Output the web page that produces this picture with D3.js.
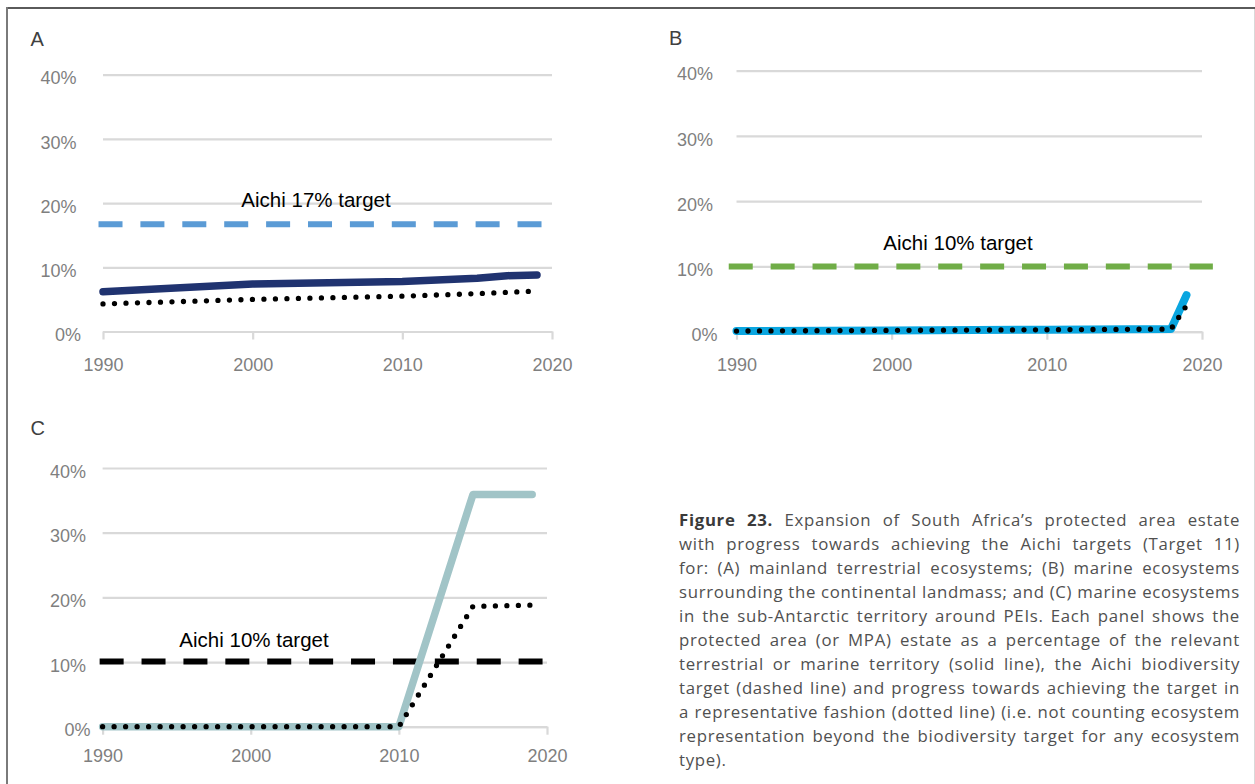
<!DOCTYPE html>
<html><head><meta charset="utf-8">
<script src="https://cdn.jsdelivr.net/npm/d3@7"></script>
<style>body{margin:0;background:#fff;} svg{display:block;}</style>
</head><body>
<svg id="c" width="1255" height="784"></svg>
<script>
// ---------- DATA ----------
const yTicks = [0, 10, 20, 30, 40];
const xTicks = [1990, 2000, 2010, 2020];

// Panel A: mainland terrestrial
const aSolidYears   = [1990, 2000, 2010, 2015, 2017, 2019];
const aSolidValues  = [6.2, 7.4, 7.8, 8.3, 8.7, 8.8];
const aDottedYears  = [1990, 2000, 2010, 2015, 2019];
const aDottedValues = [4.3, 5.0, 5.5, 5.9, 6.3];
const aTargetYears  = [1989.7, 2019.3];
const aTargetValues = [16.7, 16.7];
const aTargetLabel  = "Aichi 17% target";

// Panel B: marine around continental landmass
const bSolidYears   = [1990, 2000, 2010, 2018, 2019];
const bSolidValues  = [0.1, 0.2, 0.3, 0.4, 5.6];
const bDottedYears  = [1990, 2000, 2010, 2018, 2019];
const bDottedValues = [0.1, 0.2, 0.3, 0.4, 4.0];
const bTargetYears  = [1989.5, 2020.7];
const bTargetValues = [10, 10];
const bTargetLabel  = "Aichi 10% target";

// Panel C: sub-Antarctic marine (PEIs)
const cSolidYears   = [1990, 2010, 2015, 2019];
const cSolidValues  = [0, 0, 35.9, 35.9];
const cDottedYears  = [1990, 2010, 2015, 2019];
const cDottedValues = [0, 0, 18.6, 18.8];
const cTargetYears  = [1989.8, 2019.7];
const cTargetValues = [10.1, 10.1];
const cTargetLabel  = "Aichi 10% target";

const captionBold = "Figure 23.";
const captionLines = [
  " Expansion of South Africa\u2019s protected area estate",
  "with progress towards achieving the Aichi targets (Target 11)",
  "for: (A) mainland terrestrial ecosystems; (B) marine ecosystems",
  "surrounding the continental landmass; and (C) marine ecosystems",
  "in the sub-Antarctic territory around PEIs. Each panel shows the",
  "protected area (or MPA) estate as a percentage of the relevant",
  "terrestrial or marine territory (solid line), the Aichi biodiversity",
  "target (dashed line) and progress towards achieving the target in",
  "a representative fashion (dotted line) (i.e. not counting ecosystem",
  "representation beyond the biodiversity target for any ecosystem",
  "type)."
];

// ---------- LAYOUT ----------
const svg = d3.select("#c");
const FONT = "'Liberation Sans', Arial, sans-serif";

// frame
svg.append("line").attr("x1", 7).attr("x2", 1255).attr("y1", 8).attr("y2", 8)
  .attr("stroke", "#5a5a5a").attr("stroke-width", 2);
svg.append("line").attr("x1", 7).attr("x2", 7).attr("y1", 7).attr("y2", 784)
  .attr("stroke", "#7a7a7a").attr("stroke-width", 2);
svg.append("line").attr("x1", 1254.5).attr("x2", 1254.5).attr("y1", 9).attr("y2", 784)
  .attr("stroke", "#d9d9d9").attr("stroke-width", 1);

const panels = [
  { label: "A", lx: 30.5, ly: 46, x0: 103, x1: 552, y0: 331.5, y40: 74.7, yPad: 26.5, xPad: 19,
    solid: [aSolidYears, aSolidValues], dotted: [aDottedYears, aDottedValues],
    target: [aTargetYears, aTargetValues], tLabel: aTargetLabel, tx: 316, ty: 207,
    solidColor: "#203370", solidW: 7.5, targetColor: "#5b9bd5" },
  { label: "B", lx: 669, ly: 45, x0: 736.5, x1: 1202, y0: 331.7, y40: 70.7, yPad: 23.5, xPad: 19,
    solid: [bSolidYears, bSolidValues], dotted: [bDottedYears, bDottedValues],
    target: [bTargetYears, bTargetValues], tLabel: bTargetLabel, tx: 958, ty: 250,
    solidColor: "#0aa6e0", solidW: 8, targetColor: "#70ad47" },
  { label: "C", lx: 30.5, ly: 435, x0: 102.6, x1: 547, y0: 726.7, y40: 468, yPad: 16.5, xPad: 15,
    solid: [cSolidYears, cSolidValues], dotted: [cDottedYears, cDottedValues],
    target: [cTargetYears, cTargetValues], tLabel: cTargetLabel, tx: 254, ty: 647,
    solidColor: "#a1c4c7", solidW: 7.5, targetColor: "#000000" }
];

panels.forEach(p => {
  const x = d3.scaleLinear().domain([1990, 2020]).range([p.x0, p.x1]);
  const y = d3.scaleLinear().domain([0, 40]).range([p.y0, p.y40]);
  const g = svg.append("g");

  // panel letter
  g.append("text").attr("x", p.lx).attr("y", p.ly).text(p.label)
    .attr("font-family", FONT).attr("font-size", 20).attr("fill", "#404040");

  // y axis as gridlines
  const ya = d3.axisLeft(y).tickValues(yTicks).tickFormat(d => d + "%")
    .tickSize(-(p.x1 - p.x0)).tickPadding(p.yPad);
  const yg = g.append("g").attr("transform", `translate(${p.x0},0)`).call(ya);
  yg.select(".domain").remove();
  yg.selectAll(".tick line").attr("stroke", "#d9d9d9").attr("stroke-width", 2.2);
  yg.selectAll(".tick text").attr("font-family", FONT).attr("font-size", 18)
    .attr("fill", "#7f7f7f").attr("dy", "0.32em")
    .attr("transform", d => `translate(${d === 0 ? 4.5 : 0},3.5)`);

  // x axis
  const xa = d3.axisBottom(x).tickValues(xTicks).tickFormat(d3.format("d"))
    .tickSize(8).tickSizeOuter(0).tickPadding(p.xPad);
  const xg = g.append("g").attr("transform", `translate(0,${p.y0})`).call(xa);
  xg.select(".domain").attr("stroke", "#d9d9d9").attr("stroke-width", 2.2);
  xg.selectAll(".tick line").attr("stroke", "#d9d9d9").attr("stroke-width", 2.2);
  xg.selectAll(".tick text").attr("font-family", FONT).attr("font-size", 18).attr("fill", "#7f7f7f");

  const line = d3.line().x(d => x(d[0])).y(d => y(d[1]));
  const pairs = arr => arr[0].map((yr, i) => [yr, arr[1][i]]);

  // target (dashed)
  g.append("path").attr("d", line(pairs(p.target))).attr("fill", "none")
    .attr("stroke", p.targetColor).attr("stroke-width", 6).attr("stroke-dasharray", "24 17.9");

  // solid
  g.append("path").attr("d", line(pairs(p.solid))).attr("fill", "none")
    .attr("stroke", p.solidColor).attr("stroke-width", p.solidW)
    .attr("stroke-linecap", "round").attr("stroke-linejoin", "round");

  // dotted
  g.append("path").attr("d", line(pairs(p.dotted))).attr("fill", "none")
    .attr("stroke", "#000").attr("stroke-width", 5.3)
    .attr("stroke-linecap", "round").attr("stroke-dasharray", "0 11.5");

  // target label
  g.append("text").attr("x", p.tx).attr("y", p.ty).attr("text-anchor", "middle")
    .attr("font-family", FONT).attr("font-size", 20.5).attr("fill", "#000").text(p.tLabel);
});

// ---------- CAPTION (justified) ----------
const capX = 679, capW = 561, capY0 = 526, capLH = 24;
const CAPFONT = "'Open Sans', 'Noto Sans', sans-serif";
const capSize = 16.8;
const capG = svg.append("g").attr("font-family", CAPFONT).attr("fill", "#505050")
  .attr("font-size", capSize);

function buildCaption(ls) {
  capG.selectAll("*").remove();
  capG.attr("letter-spacing", ls);
  const nodes = [];
  captionLines.forEach((ln, i) => {
    const t = capG.append("text").attr("x", capX).attr("y", capY0 + i * capLH)
      .attr("xml:space", "preserve");
    if (i === 0) {
      t.append("tspan").attr("font-weight", 700).attr("fill", "#3a3a3a").text(captionBold);
    }
    t.append("tspan").text(ln);
    nodes.push(t);
  });
  return nodes;
}
let nodes = buildCaption(0);
// tightest line (widest natural width) sets letter spacing so it fills the column
let widths = nodes.map(n => n.node().getComputedTextLength());
let wi = d3.maxIndex(widths.slice(0, -1));
const chars = ((wi === 0 ? captionBold : "") + captionLines[wi]).length;
const ls = (capW - widths[wi]) / chars;
nodes = buildCaption(ls);
nodes.forEach((t, i) => {
  if (i === nodes.length - 1) return;
  const full = (i === 0 ? captionBold : "") + captionLines[i];
  const spaces = (full.match(/ /g) || []).length;
  const w = t.node().getComputedTextLength();
  if (spaces > 0) t.attr("word-spacing", Math.max(0, (capW - w) / spaces));
});
</script>
</body></html>
